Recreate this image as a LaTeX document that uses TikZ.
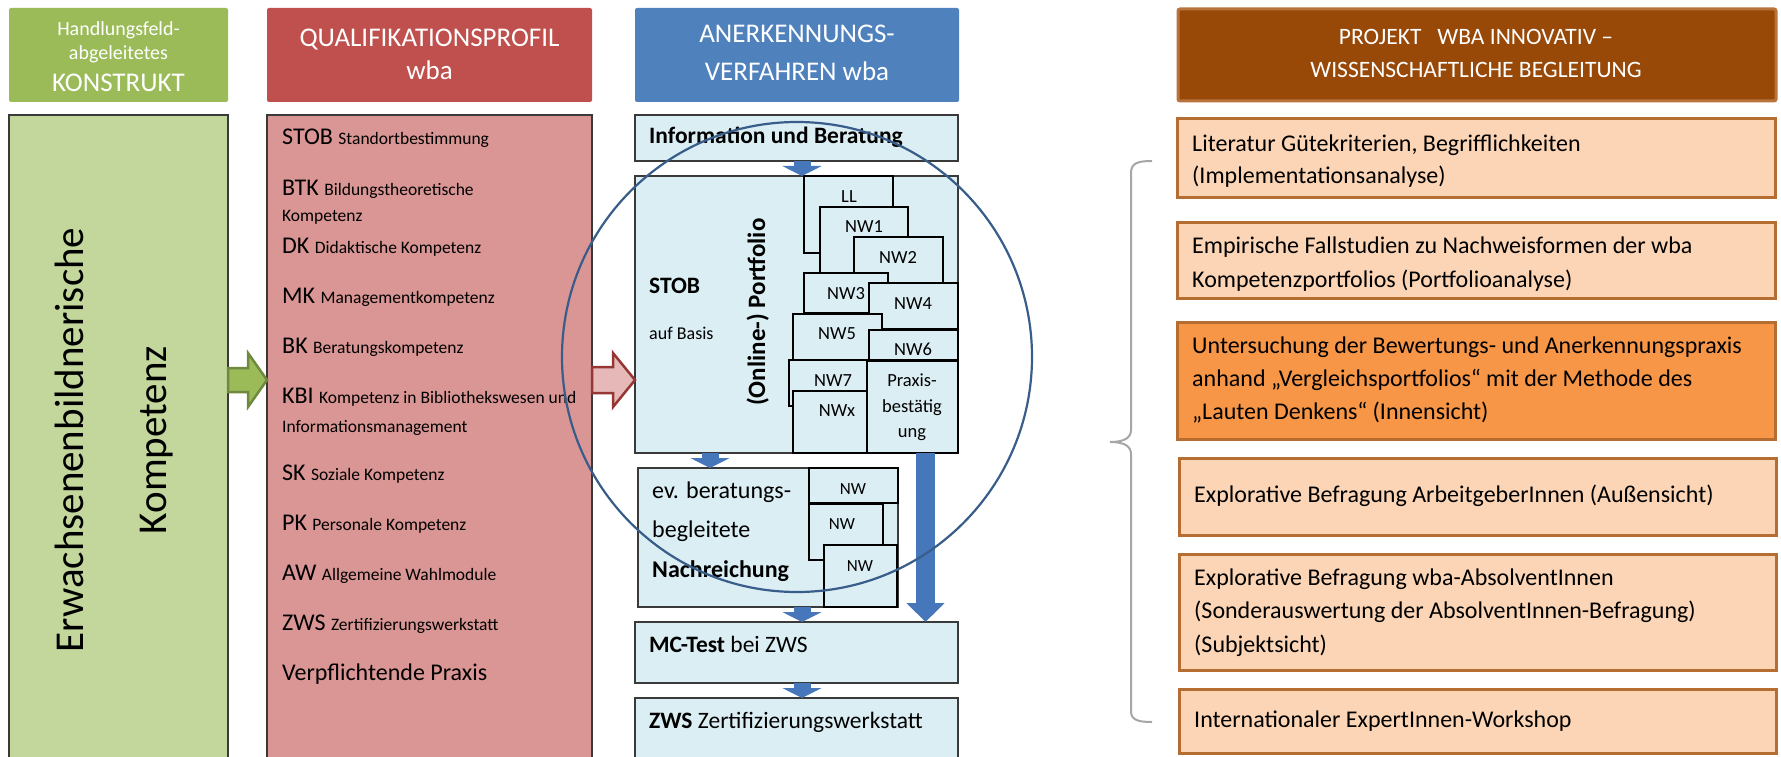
\documentclass[tikz,border=0pt]{standalone}
\usepackage{fontspec}
\setmainfont{Carlito}
\usetikzlibrary{calc,fit,arrows.meta}
\newcommand{\fsz}[1]{\fontsize{#1}{#1}\selectfont}
\definecolor{hgreen}{HTML}{9BBB59}
\definecolor{bgreen}{HTML}{C3D69B}
\definecolor{hred}{HTML}{C0504D}
\definecolor{bred}{HTML}{D99694}
\definecolor{hblue}{HTML}{4F81BD}
\definecolor{bblue}{HTML}{DBEEF4}
\definecolor{hbrown}{HTML}{984807}
\definecolor{brownedge}{HTML}{B8743C}
\definecolor{boxorange}{HTML}{FBD5B5}
\definecolor{boxorange2}{HTML}{F79646}
\definecolor{oedge}{HTML}{B66D31}
\definecolor{circc}{HTML}{385D8A}
\definecolor{arrblue}{HTML}{4677BA}
\definecolor{ragfill}{HTML}{E6B9B8}
\definecolor{ragedge}{HTML}{953735}
\definecolor{gaedge}{HTML}{71893F}
\definecolor{bracec}{HTML}{A6A6A6}
\definecolor{edgec}{HTML}{3A3A3A}
\begin{document}
\begin{tikzpicture}[x=1pt,y=-1pt,
  hdr/.style={inner sep=0pt, outer sep=0pt, rounded corners=2pt},
  box/.style={draw=edgec, line width=1.5pt, inner sep=0pt, outer sep=0pt},
  nwbox/.style={draw=black, line width=1.3pt, fill=bblue},
  rbox/.style={draw=oedge, line width=3pt, fill=boxorange, inner sep=0pt, outer sep=0pt},
  htxt/.style={text=white, anchor=base, inner sep=0pt},
  txt/.style={anchor=base west, inner sep=0pt},
  ctxt/.style={anchor=base, inner sep=0pt},
  sarr/.style={draw=arrblue, line width=17pt, -{Triangle[width=39pt,length=10pt]}},
  barr/.style={draw=arrblue, line width=19pt, -{Triangle[width=37pt,length=19pt]}},
  garrow/.style={draw=gaedge, fill=hgreen, line width=2.5pt, line join=miter},
  rarrow/.style={draw=ragedge, fill=ragfill, line width=2.5pt, line join=miter},
  bracestyle/.style={draw=bracec, line width=2pt},
  circstyle/.style={draw=circc, line width=2.2pt}
]
\useasboundingbox (0,0) rectangle (1781,757);

% ---------- headers
\node[hdr, fill=hgreen, fit={(9,8)(228,102)}] (hg) {};
\node[hdr, fill=hred, fit={(267,8)(592,102)}] (hr) {};
\node[hdr, fill=hblue, fit={(635,8)(959,102)}] (hb) {};
\node[hdr, fill=hbrown, draw=brownedge, line width=3pt, fit={(1178,9)(1776,101)}] (hp) {};

\node[htxt, font=\fsz{20}] (hg1) at (118.5,36) {Handlungsfeld-};
\node[htxt, font=\fsz{20}] (hg2) at (118.5,60) {abgeleitetes};
\node[htxt, font=\fsz{27}] (hg3) at (118.5,92) {KONSTRUKT};
\node[htxt, font=\fsz{27}] (hr1) at (429.5,47) {QUALIFIKATIONSPROFIL};
\node[htxt, font=\fsz{27}] (hr2) at (429.5,80) {wba};
\node[htxt, font=\fsz{27}] (hb1) at (797,43) {ANERKENNUNGS-};
\node[htxt, font=\fsz{27}] (hb2) at (797,81) {VERFAHREN wba};
\node[htxt, font=\fsz{23.5}] (hp1) at (1476,45) {PROJEKT\ \ \ WBA INNOVATIV –};
\node[htxt, font=\fsz{23.5}] (hp2) at (1476,78) {WISSENSCHAFTLICHE BEGLEITUNG};

% ---------- green column
\node[box, fill=bgreen, fit={(9,115)(228,765)}] (green) {};
\node[rotate=90, anchor=base, inner sep=0pt, font=\fsz{41}] (gt1) at (83,440) {Erwachsenenbildnerische};
\node[rotate=90, anchor=base, inner sep=0pt, font=\fsz{41}] (gt2) at (166,440) {Kompetenz};

% ---------- red column
\node[box, fill=bred, fit={(267,115)(592,765)}] (red) {};
\newcommand{\qline}[4]{\node[txt] (#1) at (282,#2) {\fsz{24}#3 {\fsz{17.5}#4}};}
\qline{q1}{145}{STOB}{Standortbestimmung}
\qline{q2}{195}{BTK}{Bildungstheoretische}
\node[txt, font=\fsz{17.5}] (q2b) at (282,222) {Kompetenz};
\qline{q3}{253}{DK}{Didaktische Kompetenz}
\qline{q4}{303}{MK}{Managementkompetenz}
\qline{q5}{353}{BK}{Beratungskompetenz}
\qline{q6}{403}{KBI}{Kompetenz in Bibliothekswesen und}
\node[txt, font=\fsz{17.5}] (q6b) at (282,432) {Informationsmanagement};
\qline{q7}{480}{SK}{Soziale Kompetenz}
\qline{q8}{530}{PK}{Personale Kompetenz}
\qline{q9}{580}{AW}{Allgemeine Wahlmodule}
\qline{q10}{630}{ZWS}{Zertifizierungswerkstatt}
\node[txt, font=\fsz{24}] (q11) at (282,680) {Verpflichtende Praxis};

% ---------- blue column
\node[box, fill=bblue, fit={(635,115)(958,161)}] (info) {};
\node[txt, font=\fsz{23.5}\bfseries] (infot) at (649,144) {Information und Beratung};
\node[box, fill=bblue, fit={(635,176)(958,453)}] (stob) {};
\node[txt, font=\fsz{23.5}\bfseries] (stobt) at (649,293) {STOB};
\node[txt, font=\fsz{18}] (basis) at (649,339) {auf Basis};
\node[rotate=90, anchor=base, inner sep=0pt, font=\fsz{25}\bfseries] (portf) at (765,312) {(Online-) Portfolio};

\path[nwbox] (804,176) rectangle (893,253);
\node[ctxt, font=\fsz{18.5}] (ll) at (849,202) {LL};
\path[nwbox] (820,207) rectangle (908,273);
\node[ctxt, font=\fsz{18.5}] (nw1) at (864,233) {NW1};
\path[nwbox] (854,237) rectangle (943,283);
\node[ctxt, font=\fsz{18.5}] (nw2) at (898,263) {NW2};
\path[nwbox] (804,273) rectangle (888,313);
\node[ctxt, font=\fsz{18.5}] (nw3) at (846,299) {NW3};
\path[nwbox] (869,283) rectangle (958,329);
\node[ctxt, font=\fsz{18.5}] (nw4) at (913,309) {NW4};
\path[nwbox] (793,314) rectangle (882,360);
\node[ctxt, font=\fsz{18.5}] (nw5) at (837,339) {NW5};
\path[nwbox] (869,330) rectangle (958,360);
\node[ctxt, font=\fsz{18.5}] (nw6) at (913,355) {NW6};
\path[nwbox] (789,360) rectangle (867,406);
\node[ctxt, font=\fsz{18.5}] (nw7) at (833,386) {NW7};
\path[nwbox] (793,391) rectangle (867,453);
\node[ctxt, font=\fsz{18.5}] (nwx) at (837,416) {NWx};
\path[nwbox] (867,361) rectangle (958,453);
\node[ctxt, font=\fsz{18.5}] (pr1) at (912,386) {Praxis-};
\node[ctxt, font=\fsz{18.5}] (pr2) at (912,412) {bestätig};
\node[ctxt, font=\fsz{18.5}] (pr3) at (912,437) {ung};

\node[box, fill=bblue, fit={(638,468)(898,607)}] (nach) {};
\node[txt, font=\fsz{24}] (n1) at (652,498) {ev. beratungs-};
\node[txt, font=\fsz{24}] (n2) at (652,537) {begleitete};
\node[txt, font=\fsz{24}\bfseries] (n3) at (652,577) {Nachreichung};
\path[nwbox] (809,468) rectangle (898,503);
\node[ctxt, font=\fsz{17}] (nwa) at (853,494) {NW};
\path[nwbox] (809,504) rectangle (883,560);
\node[ctxt, font=\fsz{17}] (nwb) at (842,529) {NW};
\path[nwbox] (824,545) rectangle (897,607);
\node[ctxt, font=\fsz{17}] (nwc) at (860,571) {NW};

\node[box, fill=bblue, fit={(635,622)(958,683)}] (mc) {};
\node[txt, font=\fsz{23.5}] (mct) at (649,652) {\textbf{MC-Test} bei ZWS};
\node[box, fill=bblue, fit={(635,698)(958,765)}] (zws) {};
\node[txt, font=\fsz{23.5}] (zwst) at (649,728) {\textbf{ZWS} Zertifizierungswerkstatt};

% ---------- blue arrows
\coordinate (ax1) at (802,0);
\coordinate (ax2) at (710,0);
\coordinate (ax3) at (925.5,0);
\draw[sarr] (info.south -| ax1) -- (stob.north -| ax1);
\draw[sarr] (stob.south -| ax2) -- (nach.north -| ax2);
\draw[sarr] (nach.south -| ax1) -- (mc.north -| ax1);
\draw[sarr] (mc.south -| ax1) -- (zws.north -| ax1);
\draw[barr] (stob.south -| ax3) -- (mc.north -| ax3);

% ---------- block arrows green -> red -> blue
\coordinate (arow) at (0,380);
\coordinate (ga) at (green.east |- arow);
\coordinate (gb) at (red.west |- arow);
\draw[garrow] ($(ga)+(0,-12)$) -- ($(ga)+(20,-12)$) -- ($(ga)+(20,-27)$) -- (gb)
  -- ($(ga)+(20,27)$) -- ($(ga)+(20,12)$) -- ($(ga)+(0,12)$) -- cycle;
\coordinate (ra) at (red.east |- arow);
\coordinate (rb) at (stob.west |- arow);
\draw[rarrow] ($(ra)+(0,-13)$) -- ($(ra)+(21,-13)$) -- ($(ra)+(21,-27)$) -- (rb)
  -- ($(ra)+(21,27)$) -- ($(ra)+(21,13)$) -- ($(ra)+(0,13)$) -- cycle;

% ---------- right column
\node[rbox, fit={(1177,119)(1775,197)}] (r1) {};
\node[txt, font=\fsz{24}] (r1a) at (1192,152) {Literatur Gütekriterien, Begrifflichkeiten};
\node[txt, font=\fsz{24}] (r1b) at (1192,183) {(Implementationsanalyse)};
\node[rbox, fit={(1177,222)(1775,298)}] (r2) {};
\node[txt, font=\fsz{24}] (r2a) at (1192,253) {Empirische Fallstudien zu Nachweisformen der wba};
\node[txt, font=\fsz{24}] (r2b) at (1192,287) {Kompetenzportfolios (Portfolioanalyse)};
\node[rbox, fill=boxorange2, fit={(1177,322)(1775,439)}] (r3) {};
\node[txt, font=\fsz{24}] (r3a) at (1192,353) {Untersuchung der Bewertungs- und Anerkennungspraxis};
\node[txt, font=\fsz{24}] (r3b) at (1192,386) {anhand „Vergleichsportfolios“ mit der Methode des};
\node[txt, font=\fsz{24}] (r3c) at (1192,419) {„Lauten Denkens“ (Innensicht)};
\node[rbox, fit={(1179,458)(1776,535)}] (r4) {};
\node[txt, font=\fsz{24}] (r4a) at (1194,502) {Explorative Befragung ArbeitgeberInnen (Außensicht)};
\node[rbox, fit={(1179,554)(1776,670)}] (r5) {};
\node[txt, font=\fsz{24}] (r5a) at (1194,585) {Explorative Befragung wba-AbsolventInnen};
\node[txt, font=\fsz{24}] (r5b) at (1194,618) {(Sonderauswertung der AbsolventInnen-Befragung)};
\node[txt, font=\fsz{24}] (r5c) at (1194,652) {(Subjektsicht)};
\node[rbox, fit={(1179,689)(1776,753)}] (r6) {};
\node[txt, font=\fsz{24}] (r6a) at (1194,727) {Internationaler ExpertInnen-Workshop};

% ---------- brace
\draw[bracestyle] (1152,161) .. controls (1138,161) and (1131,163) .. (1131,173)
  -- (1131,430) .. controls (1131,438) and (1124,442) .. (1110,442)
  .. controls (1124,442) and (1131,446) .. (1131,454)
  -- (1131,711) .. controls (1131,720) and (1138,722) .. (1152,722);

% ---------- circle
\draw[circstyle] (797,357) circle[radius=235pt];
\end{tikzpicture}
\end{document}
